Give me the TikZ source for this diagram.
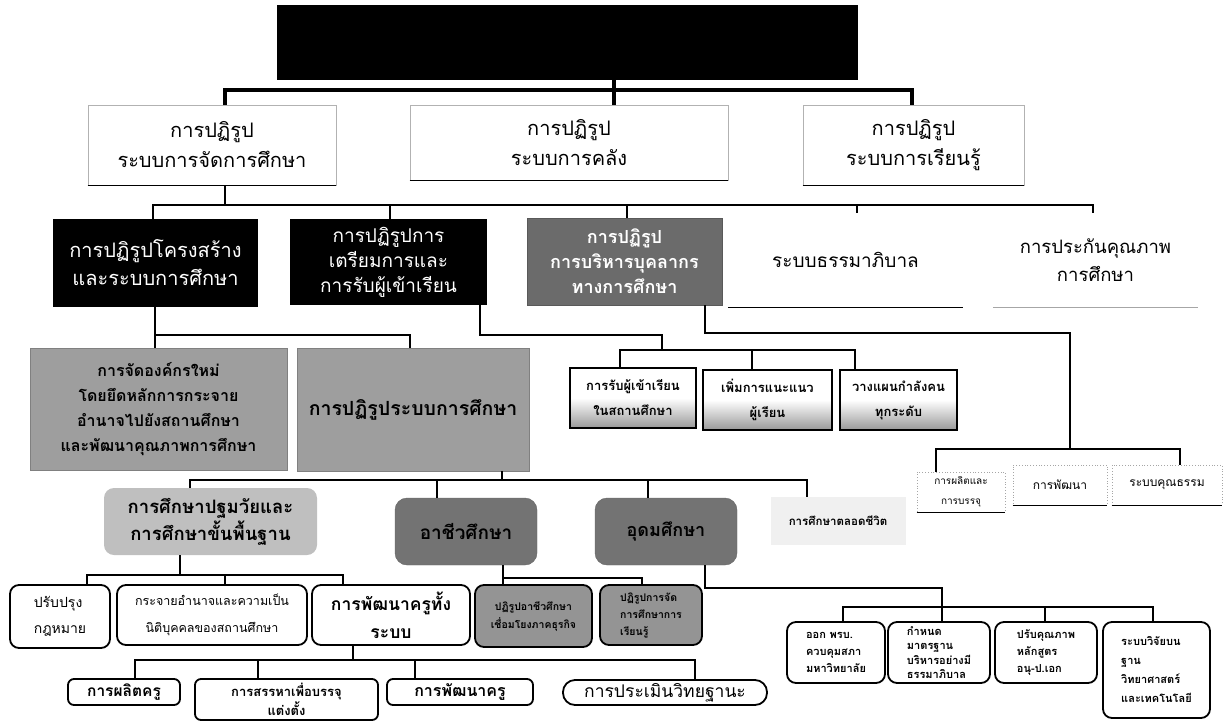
\documentclass[tikz,border=0pt]{standalone}
\usepackage{fontspec}
\setmainfont[Script=Thai]{Loma}
\newcommand\fsz[2]{\fontsize{#1}{#2}\selectfont}
\begin{document}
\begin{tikzpicture}[x=1pt,y=-1pt,
  every node/.style={inner sep=2pt, align=center},
  bus/.style={line width=3.5pt, line join=miter},
  conn/.style={line width=2.6pt, line join=miter},
  lone/.style={draw=gray!60, line width=0.6pt, fill=white},
  blk/.style={fill=black, text=white},
  gbox/.style={fill=black!58, draw=black!65, text=white},
  tbox/.style={fill=black!38, draw=black!50, text=black},
  plain/.style={fill=white},
  shade/.style={draw=black, line width=1.2pt, top color=white, bottom color=black!40, middle color=white},
  dotbox/.style={draw=gray!70, dotted, line width=0.8pt, fill=white},
  rbox/.style={draw=black, line width=1.8pt, rounded corners=9pt, fill=white},
  rgray/.style={draw=black, line width=1.8pt, rounded corners=9pt, fill=black!42},
  cloud/.style={fill=black!25, rounded corners=10pt},
  dgray/.style={fill=black!55, draw=black!60, rounded corners=12pt}
]
\useasboundingbox (0,0) rectangle (1224,721);

% top
\node[fill=black, minimum width=581, minimum height=75] (top) at (567.5,42.5) {};

% level 1
\node[lone, minimum width=248, minimum height=80, font=\fsz{20}{30}] (L1a) at (212,145) {การปฏิรูป\\ระบบการจัดการศึกษา};
\node[lone, minimum width=318, minimum height=75, font=\fsz{20}{30}] (L1b) at (569,142.5) {การปฏิรูป\\ระบบการคลัง};
\node[lone, minimum width=221, minimum height=80, font=\fsz{20}{30}] (L1c) at (913.5,145) {การปฏิรูป\\ระบบการเรียนรู้};
\foreach \n in {L1a,L1b,L1c} \draw[line width=1.6pt] (\n.south west) -- (\n.south east);

% level 2
\node[blk, minimum width=205, minimum height=88, font=\fsz{20}{28}] (A) at (155.5,263) {การปฏิรูปโครงสร้าง\\และระบบการศึกษา};
\node[blk, minimum width=197, minimum height=86, font=\fsz{19}{25}] (B) at (388.5,262) {การปฏิรูปการ\\เตรียมการและ\\การรับผู้เข้าเรียน};
\node[gbox, minimum width=195, minimum height=87, font=\fsz{18}{25}\bfseries] (C) at (624.5,261.5) {การปฏิรูป\\การบริหารบุคลากร\\ทางการศึกษา};
\node[plain, minimum width=235, minimum height=94, font=\fsz{19}{24}] (D) at (845.5,260) {ระบบธรรมาภิบาล};
\node[plain, minimum width=205, minimum height=94, font=\fsz{18.5}{28}] (E) at (1095.5,260) {การประกันคุณภาพ\\การศึกษา};
\draw[line width=1.4pt] (D.south west) -- (D.south east);
\draw[line width=0.8pt, gray!70] (E.south west) -- (E.south east);

% level 3
\node[tbox, minimum width=257, minimum height=122, font=\fsz{16}{25}\bfseries] (F) at (158.5,409) {การจัดองค์กรใหม่\\โดยยึดหลักการกระจาย\\อำนาจไปยังสถานศึกษา\\และพัฒนาคุณภาพการศึกษา};
\node[tbox, minimum width=232, minimum height=123, font=\fsz{19.5}{22}\bfseries] (G) at (413,409.5) {การปฏิรูประบบการศึกษา};
\node[shade, minimum width=126, minimum height=60, font=\fsz{13}{25}\bfseries] (H) at (633,398) {การรับผู้เข้าเรียน\\ในสถานศึกษา};
\node[shade, minimum width=129, minimum height=60, font=\fsz{13}{25}\bfseries] (I) at (767.5,400) {เพิ่มการแนะแนว\\ผู้เรียน};
\node[shade, minimum width=117, minimum height=60, font=\fsz{13}{25}\bfseries] (J) at (898.5,400) {วางแผนกำลังคน\\ทุกระดับ};
\node[dotbox, minimum width=88, minimum height=40, font=\fsz{10}{20}] (K) at (961,492) {การผลิตและ\\การบรรจุ};
\node[dotbox, minimum width=94, minimum height=40, font=\fsz{12}{14}] (L) at (1060,485) {การพัฒนา};
\node[dotbox, minimum width=110, minimum height=40, font=\fsz{12}{14}] (M) at (1167,485) {ระบบคุณธรรม};
\foreach \n in {K,L,M} \draw[line width=1.2pt] (\n.south west) -- (\n.south east);

% level 4
\node[cloud, minimum width=213, minimum height=67, font=\fsz{18.5}{27}\bfseries] (N) at (210.5,521.5) {การศึกษาปฐมวัยและ\\การศึกษาขั้นพื้นฐาน};
\node[dgray, minimum width=142, minimum height=67, font=\fsz{19}{22}\bfseries] (O) at (466,531.5) {อาชีวศึกษา};
\node[dgray, minimum width=142, minimum height=67, font=\fsz{18}{22}\bfseries] (P) at (666,531.5) {อุดมศึกษา};
\node[fill=black!6, minimum width=135, minimum height=48, font=\fsz{11.5}{14}\bfseries] (Q) at (838,521) {การศึกษาตลอดชีวิต};

% level 5
\node[rbox, minimum width=100, minimum height=63, font=\fsz{14}{26}, align=left] (R) at (60,616.5) {ปรับปรุง\\กฎหมาย};
\node[rbox, minimum width=190, minimum height=60, font=\fsz{12.5}{27}] (S) at (212,615) {กระจายอำนาจและความเป็น\\นิติบุคคลของสถานศึกษา};
\node[rbox, minimum width=158, minimum height=60, font=\fsz{17.5}{28}\bfseries] (T) at (391,615) {การพัฒนาครูทั้ง\\ระบบ};
\node[rgray, minimum width=117, minimum height=62, font=\fsz{10.5}{18}\bfseries] (Y) at (533.5,616) {ปฏิรูปอาชีวศึกษา\\เชื่อมโยงภาคธุรกิจ};
\node[rgray, minimum width=102, minimum height=60, font=\fsz{10.5}{17}\bfseries, align=left] (Z) at (651,615) {ปฏิรูปการจัด\\การศึกษาการ\\เรียนรู้};
\node[rbox, minimum width=98, minimum height=61, font=\fsz{11}{17}\bfseries, align=left] (AA) at (836,652.5) {ออก พรบ.\\ควบคุมสภา\\มหาวิทยาลัย};
\node[rbox, minimum width=102, minimum height=61, font=\fsz{11}{14.5}\bfseries, align=left] (AB) at (939,652.5) {กำหนด\\มาตรฐาน\\บริหารอย่างมี\\ธรรมาภิบาล};
\node[rbox, minimum width=102, minimum height=61, font=\fsz{11}{17}\bfseries, align=left] (AC) at (1046,652.5) {ปรับคุณภาพ\\หลักสูตร\\อนุ-ป.เอก};
\node[rbox, minimum width=107, minimum height=96, font=\fsz{11}{19}\bfseries, align=left] (AD) at (1156.5,670) {ระบบวิจัยบน\\ฐาน\\วิทยาศาสตร์\\และเทคโนโลยี};

% level 6
\node[rbox, rounded corners=6pt, minimum width=112, minimum height=26, font=\fsz{15.5}{16}\bfseries] (U) at (124,692) {การผลิตครู};
\node[rbox, rounded corners=6pt, minimum width=183, minimum height=41, font=\fsz{13}{19}\bfseries] (V) at (286.5,699.5) {การสรรหาเพื่อบรรจุ\\แต่งตั้ง};
\node[rbox, rounded corners=6pt, minimum width=146, minimum height=26, font=\fsz{16}{18}\bfseries] (W) at (460,692) {การพัฒนาครู};
\node[rbox, rounded corners=12pt, minimum width=204, minimum height=25, font=\fsz{17.5}{18}] (X) at (665,692.5) {การประเมินวิทยฐานะ};

% ---- connectors ----
\coordinate (j0) at (614,90); \coordinate (j0a) at (225,90); \coordinate (j0c) at (912,90);
\draw[bus] (top.south -| j0) -- (L1b.north -| j0);
\draw[bus] (L1a.north -| j0a) -- (j0a) -- (j0c) -- (L1c.north -| j0c);

\coordinate (j1) at (225,205); \coordinate (j1a) at (153,205); \coordinate (j1e) at (1093,205);
\draw[conn] (L1a.south -| j1) -- (j1);
\draw[conn] (A.north -| j1a) -- (j1a) -- (j1e) -- (E.north -| j1e);
\foreach \n/\x in {B/390, C/627, D/857} {
  \coordinate (tmp) at (\x,205);
  \draw[conn] (tmp) -- (\n.north -| tmp);
}

\coordinate (j2) at (155,335); \coordinate (j2g) at (410,335);
\draw[conn] (A.south -| j2) -- (F.north -| j2);
\draw[conn] (j2) -- (j2g) -- (G.north -| j2g);

\coordinate (j3a) at (480,335); \coordinate (j3b) at (662,335); \coordinate (j3c) at (662,350);
\coordinate (j3h) at (620,350); \coordinate (j3i) at (752,350); \coordinate (j3j) at (855,350);
\draw[conn] (B.south -| j3a) -- (j3a) -- (j3b) -- (j3c);
\draw[conn] (H.north -| j3h) -- (j3h) -- (j3j) -- (J.north -| j3j);
\draw[conn] (j3i) -- (I.north -| j3i);

\coordinate (j4a) at (705,333); \coordinate (j4b) at (1070,333); \coordinate (j4c) at (1070,449);
\coordinate (j4k) at (936,449); \coordinate (j4m) at (1180,449);
\draw[conn] (C.south -| j4a) -- (j4a) -- (j4b) -- (j4c);
\draw[conn] (K.north -| j4k) -- (j4k) -- (j4m) -- (M.north -| j4m);

\coordinate (j5) at (502,480); \coordinate (j5n) at (190,480); \coordinate (j5q) at (807,480);
\coordinate (j5o) at (437,480); \coordinate (j5p) at (648,480);
\draw[conn] (G.south -| j5) -- (j5);
\draw[conn] (N.north -| j5n) -- (j5n) -- (j5q) -- (Q.north -| j5q);
\draw[conn] (j5o) -- (O.north -| j5o);
\draw[conn] (j5p) -- (P.north -| j5p);

\coordinate (j6) at (180,575); \coordinate (j6r) at (87,575); \coordinate (j6s) at (225,575); \coordinate (j6t) at (343,575);
\draw[conn] (N.south -| j6) -- (j6);
\draw[conn] (R.north -| j6r) -- (j6r) -- (j6t) -- (T.north -| j6t);
\draw[conn] (j6s) -- (S.north -| j6s);

\coordinate (j7) at (353,660); \coordinate (j7u) at (135,660); \coordinate (j7v) at (258,660);
\coordinate (j7w) at (415,660); \coordinate (j7x) at (695,660);
\draw[conn] (T.south -| j7) -- (j7);
\draw[conn] (U.north -| j7u) -- (j7u) -- (j7x) -- (X.north -| j7x);
\draw[conn] (j7v) -- (V.north -| j7v);
\draw[conn] (j7w) -- (W.north -| j7w);

\coordinate (j8) at (503,578); \coordinate (j8z) at (642,578);
\draw[conn] (O.south -| j8) -- (Y.north -| j8);
\draw[conn] (j8) -- (j8z) -- (Z.north -| j8z);

\coordinate (j9a) at (705,588); \coordinate (j9b) at (942,588); \coordinate (j9c) at (942,607);
\coordinate (j9aa) at (843,607); \coordinate (j9ac) at (1045,607); \coordinate (j9ad) at (1153,607);
\draw[conn] (P.south -| j9a) -- (j9a) -- (j9b) -- (AB.north -| j9b);
\draw[conn] (AA.north -| j9aa) -- (j9aa) -- (j9ad) -- (AD.north -| j9ad);
\draw[conn] (j9ac) -- (AC.north -| j9ac);
\end{tikzpicture}
\end{document}
